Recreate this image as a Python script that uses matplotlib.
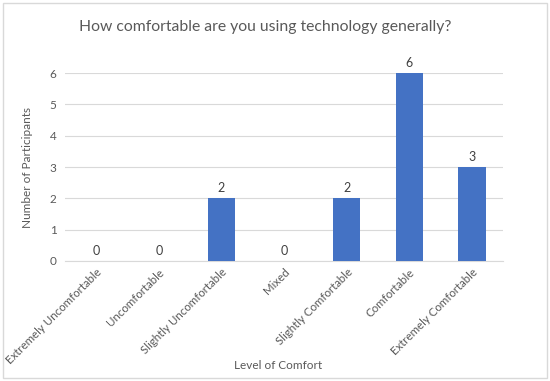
import matplotlib
matplotlib.use("Agg")
import matplotlib.pyplot as plt
from matplotlib.patches import Rectangle

categories = ["Extremely Uncomfortable", "Uncomfortable", "Slightly Uncomfortable",
              "Mixed", "Slightly Comfortable", "Comfortable", "Extremely Comfortable"]
values = [0, 0, 2, 0, 2, 6, 3]
yticks = [0, 1, 2, 3, 4, 5, 6]

plt.rcParams['font.family'] = ['Lato', 'DejaVu Sans']
txt = '#595959'

fig = plt.figure(figsize=(5.5, 3.81), dpi=100)
fig.patches.append(Rectangle((0.006, 0.008), 0.988, 0.984, transform=fig.transFigure,
                             fill=False, edgecolor='#d9d9d9', linewidth=1))
ax = fig.add_axes([0.118, 0.315, 0.797, 0.493])
x = list(range(len(categories)))
bars = ax.bar(x, values, width=0.44, color='#4472C4', zorder=3)
for xi, v in zip(x, values):
    ax.text(xi, v + 0.14, str(v), ha='center', va='bottom', fontsize=9, color='#404040')
ax.set_xlim(-0.5, len(categories) - 0.5)
ax.set_ylim(0, 6)
ax.set_yticks(yticks)
ax.set_yticklabels([str(t) for t in yticks], fontsize=8.5, color=txt)
ax.set_xticks(x)
ax.set_xticklabels(categories, rotation=45, ha='right', rotation_mode='anchor', fontsize=8.3, color=txt)
ax.tick_params(axis='both', length=0, pad=6)
ax.tick_params(axis='x', pad=4)
ax.yaxis.grid(True, color='#d9d9d9', linewidth=0.8, zorder=0)
for s in ['top', 'right', 'left']:
    ax.spines[s].set_visible(False)
ax.spines['bottom'].set_color('#d9d9d9')
ax.set_ylabel('Number of Participants', fontsize=8.5, color=txt, labelpad=12)
fig.text(0.505, 0.025, 'Level of Comfort', ha='center', va='bottom', fontsize=8.5, color=txt)
fig.text(0.482, 0.928, 'How comfortable are you using technology generally?',
         ha='center', va='center', fontsize=11.3, color=txt)
fig.savefig('out.png', dpi=100)
